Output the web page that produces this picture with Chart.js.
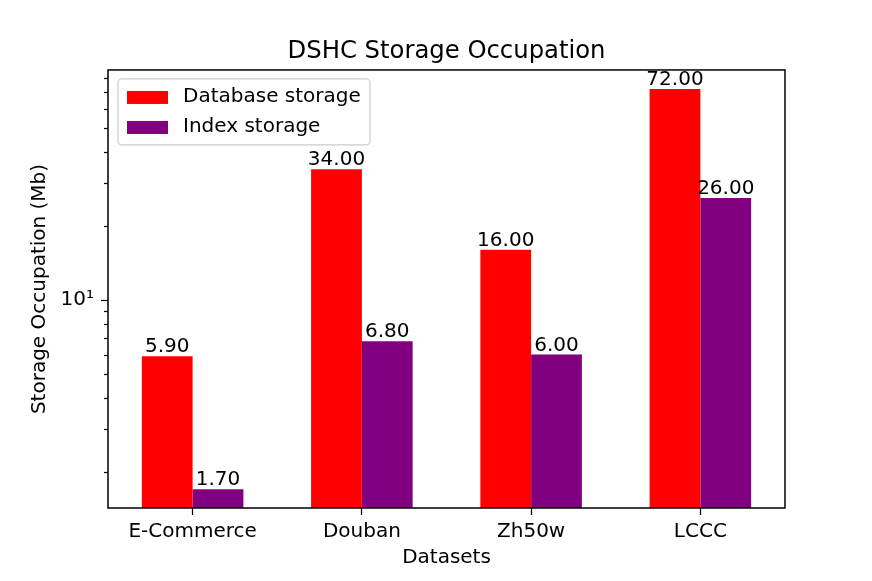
<!DOCTYPE html>
<html>
<head>
<meta charset="utf-8">
<script src="https://cdn.jsdelivr.net/npm/chart.js@4.4.0/dist/chart.umd.min.js"></script>
<style>
  body { margin: 0; background: #fff; }
  #wrap { width: 872px; height: 581px; }
</style>
</head>
<body>
<div id="wrap"><canvas id="storageChart" width="872" height="581"></canvas></div>
<script>
// data
const datasetNames = ['E-Commerce', 'Douban', 'Zh50w', 'LCCC'];
const databaseStorage = [5.9, 34, 16, 72];
const indexStorage = [1.7, 6.8, 6.0, 26];
const yTickValues = [2, 3, 4, 5, 6, 7, 8, 9, 10, 20, 30, 40, 50, 60, 70, 80];

const FONT = 'DejaVu Sans';
const FS = 20;

// frame, ticks, bar labels and legend drawn on top
const extras = {
    id: 'extras',
    afterDatasetsDraw(chart) {
        const ctx = chart.ctx;
        const area = chart.chartArea;
        const y = chart.scales.y;

        // value labels over the bars
        ctx.save();
        ctx.fillStyle = '#000';
        ctx.font = FS + 'px "' + FONT + '"';
        ctx.textAlign = 'center';
        ctx.textBaseline = 'alphabetic';
        chart.data.datasets.forEach((ds, i) => {
            chart.getDatasetMeta(i).data.forEach((bar, j) => {
                ctx.fillText(ds.data[j].toFixed(2), bar.x, bar.y - 4);
            });
        });
        ctx.restore();

        // y ticks, major at 10
        ctx.save();
        ctx.strokeStyle = '#000';
        ctx.lineWidth = 1.2;
        yTickValues.forEach(v => {
            const py = Math.round(y.getPixelForValue(v)) + 0.5;
            const len = v === 10 ? 7 : 4;
            ctx.beginPath();
            ctx.moveTo(area.left, py);
            ctx.lineTo(area.left - len, py);
            ctx.stroke();
        });

        // axes frame
        ctx.lineWidth = 1.5;
        ctx.strokeRect(area.left, area.top, area.right - area.left, area.bottom - area.top);
        ctx.restore();

        // legend, upper left
        const lx = area.left + 10, ly = area.top + 9, lw = 252, lh = 66;
        ctx.save();
        ctx.fillStyle = 'rgba(255,255,255,0.8)';
        ctx.strokeStyle = '#cccccc';
        ctx.lineWidth = 1.2;
        ctx.beginPath();
        ctx.roundRect(lx, ly, lw, lh, 4);
        ctx.fill();
        ctx.stroke();
        ctx.font = FS + 'px "' + FONT + '"';
        ctx.textBaseline = 'middle';
        chart.data.datasets.forEach((ds, i) => {
            const rowY = ly + 18 + i * 30;
            ctx.fillStyle = ds.backgroundColor;
            ctx.fillRect(lx + 9, rowY - 6, 41, 13);
            ctx.fillStyle = '#000';
            ctx.fillText(ds.label, lx + 65, rowY);
        });
        ctx.restore();
    }
};

const config = {
    type: 'bar',
    data: {
        labels: datasetNames,
        datasets: [{
            label: 'Database storage',
            data: databaseStorage,
            backgroundColor: '#ff0000',
            borderWidth: 0,
            categoryPercentage: 0.6,
            barPercentage: 1.0
        }, {
            label: 'Index storage',
            data: indexStorage,
            backgroundColor: '#800080',
            borderWidth: 0,
            categoryPercentage: 0.6,
            barPercentage: 1.0
        }]
    },
    options: {
        responsive: false,
        animation: false,
        devicePixelRatio: 1,
        layout: { padding: { top: 0, right: 87, bottom: 0, left: 0 } },
        plugins: {
            legend: { display: false },
            tooltip: { enabled: false },
            title: {
                display: true,
                fullSize: false,
                text: 'DSHC Storage Occupation',
                color: '#000',
                font: { family: FONT, size: 24.3, weight: 'normal' },
                padding: { top: 37, bottom: 3.8 }
            }
        },
        scales: {
            x: {
                afterFit: s => { s.height = 73; },
                grid: {
                    offset: false,
                    drawOnChartArea: false,
                    drawTicks: true,
                    tickLength: 7,
                    tickWidth: 1.2,
                    tickColor: '#000'
                },
                border: { display: false },
                ticks: {
                    color: '#000',
                    padding: 5,
                    font: { family: FONT, size: FS }
                },
                title: {
                    display: true,
                    text: 'Datasets',
                    color: '#000',
                    font: { family: FONT, size: FS },
                    padding: { top: 0, bottom: 11 }
                }
            },
            y: {
                type: 'logarithmic',
                min: 1.427,
                max: 86.1,
                afterFit: s => { s.width = 108; },
                afterBuildTicks: s => {
                    s.ticks = yTickValues.map(v => ({ value: v, major: v === 10 }));
                },
                grid: { display: true, drawOnChartArea: false, drawTicks: false },
                border: { display: false },
                ticks: {
                    autoSkip: false,
                    color: '#000',
                    padding: 14,
                    font: { family: FONT, size: FS },
                    callback: v => (v === 10 ? '10\u00b9' : '')
                },
                title: {
                    display: true,
                    text: 'Storage Occupation (Mb)',
                    color: '#000',
                    font: { family: FONT, size: FS },
                    padding: { top: 28, bottom: 0 }
                }
            }
        }
    },
    plugins: [extras]
};

const storageChart = new Chart(document.getElementById('storageChart'), config);
</script>
</body>
</html>
